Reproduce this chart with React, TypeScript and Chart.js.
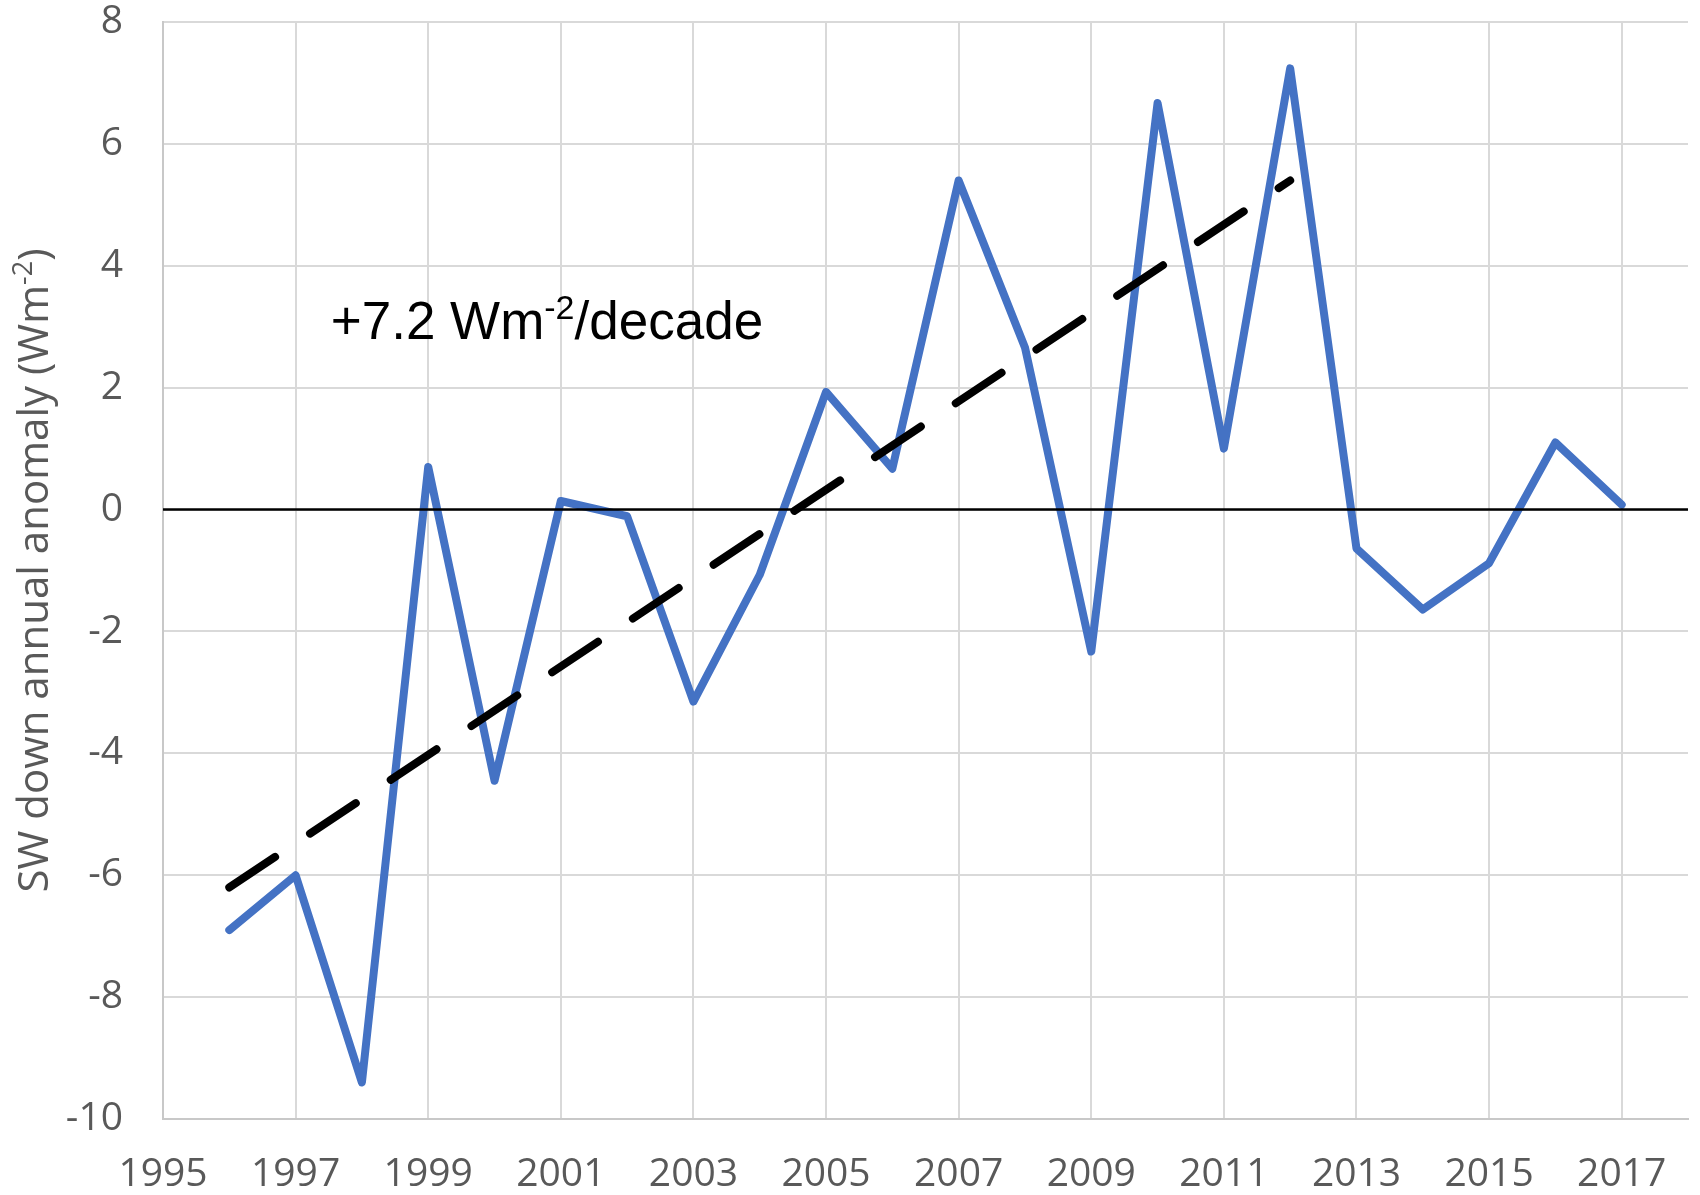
import React, { useEffect, useRef } from "react";
import { Chart, registerables } from "chart.js";

Chart.register(...registerables);

// ---- data ----
const years = [1996, 1997, 1998, 1999, 2000, 2001, 2002, 2003, 2004, 2005, 2006, 2007, 2008, 2009, 2010, 2011, 2012, 2013, 2014, 2015, 2016, 2017];
const anomaly = [-6.9, -6.0, -9.4, 0.7, -4.45, 0.14, -0.11, -3.15, -1.07, 1.93, 0.67, 5.4, 2.66, -2.33, 6.67, 1.0, 7.24, -0.64, -1.64, -0.88, 1.1, 0.08];
const trendYears = [1996, 2012];
const trendValues = [-6.2, 5.4];
const zeroYears = [1995, 2018];
const zeroValues = [0, 0];
const xTickValues = [1995, 1997, 1999, 2001, 2003, 2005, 2007, 2009, 2011, 2013, 2015, 2017];
const xMin = 1995;
const xMax = 2018;
const yMin = -10;
const yMax = 8;
const yStep = 2;
const yTitleMain = "SW down annual anomaly (Wm";
const yTitleSup = "-2";
const yTitleEnd = ")";
const noteMain = "+7.2 Wm";
const noteSup = "-2";
const noteEnd = "/decade";
const noteX = 1997.53;
const noteY = 2.8;

const TICK_FONT = "'Open Sans', sans-serif";
const GRAY = "#595959";

const textPlugin = {
  id: "textPlugin",
  afterDraw(chart: any) {
    const ctx = chart.ctx as CanvasRenderingContext2D;
    const area = chart.chartArea;
    // y-axis title (rotated)
    ctx.save();
    const tSize = 42;
    const sSize = 27;
    const mainFont = `${tSize}px ${TICK_FONT}`;
    const supFont = `${sSize}px ${TICK_FONT}`;
    ctx.font = mainFont;
    const w1 = ctx.measureText(yTitleMain).width;
    const w3 = ctx.measureText(yTitleEnd).width;
    ctx.font = supFont;
    const w2 = ctx.measureText(yTitleSup).width;
    const total = w1 + w2 + w3;
    const cy = (area.top + area.bottom) / 2;
    ctx.translate(33, cy);
    ctx.rotate(-Math.PI / 2);
    ctx.fillStyle = GRAY;
    ctx.textBaseline = "alphabetic";
    ctx.textAlign = "left";
    const base = 15;
    let x = -total / 2;
    ctx.font = mainFont;
    ctx.fillText(yTitleMain, x, base);
    x += w1;
    ctx.font = supFont;
    ctx.fillText(yTitleSup, x, base - 16);
    x += w2;
    ctx.font = mainFont;
    ctx.fillText(yTitleEnd, x, base);
    ctx.restore();

    // annotation
    ctx.save();
    const xs = chart.scales.x;
    const ys = chart.scales.y;
    const px = xs.getPixelForValue(noteX);
    const py = ys.getPixelForValue(noteY);
    const nFont = "53px 'Liberation Sans', Arial, sans-serif";
    const nSup = "34px 'Liberation Sans', Arial, sans-serif";
    ctx.fillStyle = "#000000";
    ctx.textBaseline = "alphabetic";
    ctx.textAlign = "left";
    ctx.font = nFont;
    let ax = px;
    ctx.fillText(noteMain, ax, py);
    ax += ctx.measureText(noteMain).width;
    ctx.font = nSup;
    ctx.fillText(noteSup, ax, py - 20);
    ax += ctx.measureText(noteSup).width;
    ctx.font = nFont;
    ctx.fillText(noteEnd, ax, py);
    ctx.restore();
  },
};

export default function App() {
  const canvasRef = useRef<HTMLCanvasElement | null>(null);

  useEffect(() => {
    if (!canvasRef.current) return;
    const chart = new Chart(canvasRef.current, {
      type: "line",
      data: {
        datasets: [
          {
            label: "trend",
            data: trendYears.map((x, i) => ({ x, y: trendValues[i] })),
            borderColor: "#000000",
            borderWidth: 8,
            borderDash: [55, 42],
            borderCapStyle: "round",
            pointRadius: 0,
            tension: 0,
          },
          {
            label: "zero",
            data: zeroYears.map((x, i) => ({ x, y: zeroValues[i] })),
            borderColor: "#000000",
            borderWidth: 2.5,
            pointRadius: 0,
            tension: 0,
          },
          {
            label: "SW down annual anomaly",
            data: years.map((x, i) => ({ x, y: anomaly[i] })),
            borderColor: "#4472C4",
            borderWidth: 8,
            borderJoinStyle: "round",
            borderCapStyle: "round",
            pointRadius: 0,
            tension: 0,
          },
        ],
      },
      options: {
        animation: false,
        responsive: false,
        devicePixelRatio: 1,
        layout: { padding: { top: 22, right: 12, left: 0, bottom: 0 } },
        plugins: {
          legend: { display: false },
          tooltip: { enabled: false },
          title: { display: false },
        },
        scales: {
          x: {
            type: "linear",
            min: xMin,
            max: xMax,
            afterBuildTicks: (scale: any) => {
              scale.ticks = xTickValues.map((v) => ({ value: v }));
            },
            afterFit: (scale: any) => {
              scale.height = 76;
              scale.paddingLeft = 0;
              scale.paddingRight = 0;
            },
            grid: {
              color: "#d9d9d9",
              lineWidth: 2,
              drawTicks: false,
            },
            border: { color: "#c8c8c8", width: 2 },
            ticks: {
              color: GRAY,
              font: { family: TICK_FONT, size: 39 },
              padding: 32,
              maxRotation: 0,
              autoSkip: false,
              callback: (v: any) => String(v),
            },
          },
          y: {
            type: "linear",
            min: yMin,
            max: yMax,
            afterFit: (scale: any) => {
              scale.width = 163;
              scale.paddingTop = 0;
              scale.paddingBottom = 0;
            },
            grid: {
              color: "#d9d9d9",
              lineWidth: 2,
              drawTicks: false,
            },
            border: { color: "#c8c8c8", width: 2 },
            ticks: {
              stepSize: yStep,
              color: GRAY,
              font: { family: TICK_FONT, size: 39 },
              padding: 40,
              callback: (v: any) => String(v),
            },
          },
        },
      },
      plugins: [textPlugin],
    } as any);
    return () => chart.destroy();
  }, []);

  return (
    <div style={{ position: "absolute", left: 0, top: 0, width: 1700, height: 1195, background: "#ffffff" }}>
      <canvas ref={canvasRef} width={1700} height={1195} />
    </div>
  );
}
